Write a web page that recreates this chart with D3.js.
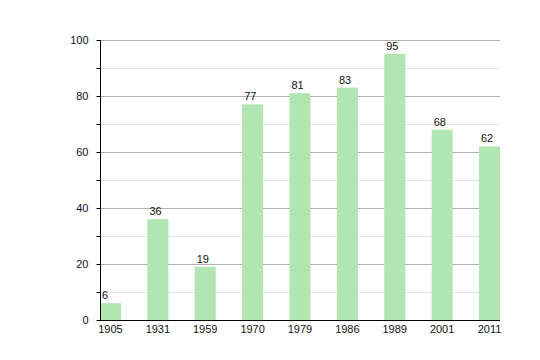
<!DOCTYPE html>
<html><head><meta charset="utf-8">
<script src="https://cdn.jsdelivr.net/npm/d3@7"></script>
<style>body{margin:0;background:#fff}svg{display:block}text{font-family:"Liberation Sans",Arial,sans-serif;font-size:11px;fill:#111}</style>
</head><body><svg id="c" width="540" height="360"></svg>
<script>
const categories = ["1905","1931","1959","1970","1979","1986","1989","2001","2011"];
const values = [6,36,19,77,81,83,95,68,62];
const yTicks = [0,20,40,60,80,100];
const yMinor = [10,30,50,70,90];

const svg = d3.select("#c");
const L=100,R=500,T=40,B=320,bw=21;
const y = d3.scaleLinear().domain([0,100]).range([B,T]);
const step=(R-L-bw)/(categories.length-1);
const x = d3.scalePoint().domain(categories).range([L,R-bw]);

svg.selectAll(".gmin").data(yMinor).enter().append("line")
 .attr("x1",L).attr("x2",R).attr("y1",d=>y(d)+0.5).attr("y2",d=>y(d)+0.5)
 .attr("stroke","#e6e6e6").attr("stroke-width",1);
svg.selectAll(".gmaj").data(yTicks.filter(d=>d>0)).enter().append("line")
 .attr("x1",L).attr("x2",R).attr("y1",d=>y(d)+0.5).attr("y2",d=>y(d)+0.5)
 .attr("stroke","#b0b0b0").attr("stroke-width",1);

svg.selectAll(".bar").data(values).enter().append("rect")
 .attr("x",(d,i)=>x(categories[i])).attr("width",bw)
 .attr("y",d=>y(d)).attr("height",d=>B-y(d)).attr("fill","#b1e5b1");

svg.selectAll(".lbl").data(values).enter().append("text")
 .attr("x",(d,i)=>x(categories[i])+2).attr("y",d=>y(d)-4).text(d=>d);

const yAxis = d3.axisLeft(y).tickValues(d3.range(0,101,10)).tickSize(4)
 .tickFormat(d=>yTicks.includes(d)?d:"");
const gy = svg.append("g").attr("transform",`translate(${L+0.5},0)`).call(yAxis);
gy.select(".domain").attr("stroke","#000").attr("d",`M0,${T}V${B}`);
gy.selectAll(".tick line").attr("stroke","#000");
gy.selectAll(".tick text").attr("x",-12).style("font-size","11px").style("font-family","Liberation Sans, Arial, sans-serif").attr("fill","#111");

svg.append("line").attr("x1",L).attr("x2",R).attr("y1",B+0.5).attr("y2",B+0.5).attr("stroke","#000");
svg.selectAll(".xl").data(categories).enter().append("text")
 .attr("x",d=>x(d)+bw/2).attr("y",B+13).attr("text-anchor","middle").text(d=>d);
</script></body></html>
